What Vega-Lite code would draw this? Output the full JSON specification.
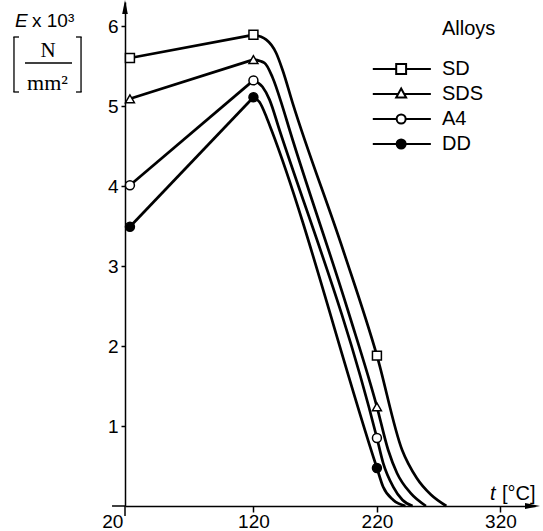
{
  "$schema": "https://vega.github.io/schema/vega-lite/v6.json",
  "width": 410,
  "height": 504,
  "autosize": {"type": "none"},
  "padding": {"left": 125, "top": 2, "right": 8, "bottom": 25},
  "background": "white",
  "config": {"view": {"stroke": null}, "font": "Liberation Sans"},
  "resolve": {"scale": {"shape": "independent", "fill": "independent", "stroke": "independent"}},
  "datasets": {
    "curve": [
      {"alloy": "SD", "t": 20, "E": 5.6}, {"alloy": "SD", "t": 120, "E": 5.89}, {"alloy": "SD", "t": 130.3, "E": 5.83}, {"alloy": "SD", "t": 138.5, "E": 5.66}, {"alloy": "SD", "t": 143.6, "E": 5.45}, {"alloy": "SD", "t": 151.7, "E": 5.04}, {"alloy": "SD", "t": 192.6, "E": 3.2}, {"alloy": "SD", "t": 220, "E": 1.88}, {"alloy": "SD", "t": 240.4, "E": 0.7}, {"alloy": "SD", "t": 252.2, "E": 0.35}, {"alloy": "SD", "t": 263.8, "E": 0.14}, {"alloy": "SD", "t": 276.2, "E": 0},
      {"alloy": "SDS", "t": 20, "E": 5.09}, {"alloy": "SDS", "t": 120, "E": 5.58}, {"alloy": "SDS", "t": 128.9, "E": 5.54}, {"alloy": "SDS", "t": 135.4, "E": 5.36}, {"alloy": "SDS", "t": 143.6, "E": 4.99}, {"alloy": "SDS", "t": 149.3, "E": 4.7}, {"alloy": "SDS", "t": 196.4, "E": 2.45}, {"alloy": "SDS", "t": 220, "E": 1.24}, {"alloy": "SDS", "t": 229.1, "E": 0.7}, {"alloy": "SDS", "t": 236.3, "E": 0.41}, {"alloy": "SDS", "t": 247.3, "E": 0.16}, {"alloy": "SDS", "t": 259.7, "E": 0},
      {"alloy": "A4", "t": 20, "E": 4.01}, {"alloy": "A4", "t": 120, "E": 5.32}, {"alloy": "A4", "t": 127.3, "E": 5.24}, {"alloy": "A4", "t": 133, "E": 5.08}, {"alloy": "A4", "t": 141.1, "E": 4.7}, {"alloy": "A4", "t": 220, "E": 0.85}, {"alloy": "A4", "t": 225, "E": 0.54}, {"alloy": "A4", "t": 233.2, "E": 0.24}, {"alloy": "A4", "t": 240.7, "E": 0.075}, {"alloy": "A4", "t": 248.9, "E": 0},
      {"alloy": "DD", "t": 20, "E": 3.49}, {"alloy": "DD", "t": 120, "E": 5.11}, {"alloy": "DD", "t": 124.9, "E": 5.05}, {"alloy": "DD", "t": 130.6, "E": 4.86}, {"alloy": "DD", "t": 134.6, "E": 4.7}, {"alloy": "DD", "t": 220, "E": 0.475}, {"alloy": "DD", "t": 225, "E": 0.24}, {"alloy": "DD", "t": 233.2, "E": 0.075}, {"alloy": "DD", "t": 243.1, "E": 0}
    ],
    "points": [
      {"alloy": "SD", "t": 20, "E": 5.6}, {"alloy": "SD", "t": 120, "E": 5.89}, {"alloy": "SD", "t": 220, "E": 1.88},
      {"alloy": "SDS", "t": 20, "E": 5.09}, {"alloy": "SDS", "t": 120, "E": 5.58}, {"alloy": "SDS", "t": 220, "E": 1.24},
      {"alloy": "A4", "t": 20, "E": 4.01}, {"alloy": "A4", "t": 120, "E": 5.32}, {"alloy": "A4", "t": 220, "E": 0.85},
      {"alloy": "DD", "t": 20, "E": 3.49}, {"alloy": "DD", "t": 120, "E": 5.11}, {"alloy": "DD", "t": 220, "E": 0.475}
    ]
  },
  "layer": [
    {
      "data": {"name": "curve"},
      "transform": [{"filter": "datum.t <= 120"}],
      "mark": {"type": "line", "color": "black", "strokeWidth": 2.7},
      "encoding": {
        "x": {"field": "t", "type": "quantitative", "scale": {"domain": [16, 348], "nice": false, "zero": false},
          "axis": {"values": [20, 120, 220, 320], "title": null, "grid": false, "domainColor": "black", "domainWidth": 1.5, "tickColor": "black", "tickWidth": 1.5, "tickSize": 6, "labelFont": "Liberation Sans", "labelFontSize": 19, "labelColor": "black", "labelPadding": 0, "labelFlush": false,
            "tickOpacity": {"condition": {"test": "datum.value === 20", "value": 0}, "value": 1},
            "labelAlign": {"condition": {"test": "datum.value === 20", "value": "right"}, "value": "center"},
            "labelOffset": {"condition": {"test": "datum.value === 20", "value": -7}, "value": 0}}},
        "y": {"field": "E", "type": "quantitative", "scale": {"domain": [0, 6.3], "nice": false, "zero": true},
          "axis": {"values": [1, 2, 3, 4, 5, 6], "format": "d", "title": null, "grid": false, "domainColor": "black", "domainWidth": 1.5, "tickColor": "black", "tickWidth": 1.5, "tickSize": 4, "labelFont": "Liberation Sans", "labelFontSize": 19, "labelColor": "black", "labelPadding": 3}},
        "detail": {"field": "alloy"}
      }
    },
    {
      "data": {"name": "curve"},
      "transform": [{"filter": "datum.t >= 120"}],
      "mark": {"type": "line", "color": "black", "strokeWidth": 2.7, "interpolate": "monotone"},
      "encoding": {
        "x": {"field": "t", "type": "quantitative"},
        "y": {"field": "E", "type": "quantitative"},
        "detail": {"field": "alloy"}
      }
    },
    {
      "data": {"name": "points"},
      "mark": {"type": "point", "filled": true, "stroke": "black", "strokeWidth": 1.5, "size": 80, "opacity": 1},
      "encoding": {
        "x": {"field": "t", "type": "quantitative"},
        "y": {"field": "E", "type": "quantitative"},
        "shape": {"field": "alloy", "type": "nominal",
          "scale": {"domain": ["SD", "SDS", "A4", "DD"], "range": ["square", "triangle-up", "circle", "circle"]}, "legend": null},
        "fill": {"field": "alloy", "type": "nominal",
          "scale": {"domain": ["SD", "SDS", "A4", "DD"], "range": ["white", "white", "white", "black"]}, "legend": null}
      }
    },
    {
      "data": {"name": "points"},
      "transform": [{"filter": "false"}],
      "mark": {"type": "point", "filled": true, "strokeWidth": 2, "opacity": 1},
      "encoding": {
        "x": {"field": "t", "type": "quantitative"},
        "y": {"field": "E", "type": "quantitative"},
        "shape": {"field": "alloy", "type": "nominal",
          "scale": {"domain": ["SD", "SDS", "A4", "DD"], "range": [
            "M-17.6,0H-12.4M-10.2,0H-4.7M-12.4,-1.1H-10.2V1.1H-12.4Z",
            "M-17.6,0H-11.96M-10.64,0H-4.7M-11.3,-1.2L-10.2,0.8H-12.4Z",
            "M-17.6,0H-12.3M-10.3,0H-4.7M-12.3,0A1,1,0,1,1,-10.3,0A1,1,0,1,1,-12.3,0Z",
            "M-17.6,0H-12.3M-10.3,0H-4.7M-12.3,0A1,1,0,1,1,-10.3,0A1,1,0,1,1,-12.3,0Z"]},
          "legend": {"orient": "none", "legendX": 317, "legendY": 17, "title": "Alloys", "titleFont": "Liberation Sans", "titleFontSize": 20, "titleFontWeight": "normal", "titleColor": "black", "titlePadding": 20, "labelFont": "Liberation Sans", "labelFontSize": 20, "labelColor": "black", "labelOffset": -20, "symbolSize": 81, "rowPadding": 5, "padding": 0, "symbolStrokeWidth": 2, "symbolOpacity": 1}},
        "fill": {"field": "alloy", "type": "nominal",
          "scale": {"domain": ["SD", "SDS", "A4", "DD"], "range": ["white", "white", "white", "black"]},
          "legend": {"orient": "none", "legendX": 317, "legendY": 17, "title": "Alloys", "titleFont": "Liberation Sans", "titleFontSize": 20, "titleFontWeight": "normal", "titleColor": "black", "titlePadding": 20, "labelFont": "Liberation Sans", "labelFontSize": 20, "labelColor": "black", "labelOffset": -20, "symbolSize": 81, "rowPadding": 5, "padding": 0, "symbolStrokeWidth": 2, "symbolOpacity": 1}},
        "stroke": {"field": "alloy", "type": "nominal",
          "scale": {"domain": ["SD", "SDS", "A4", "DD"], "range": ["black", "black", "black", "black"]},
          "legend": {"orient": "none", "legendX": 317, "legendY": 17, "title": "Alloys", "titleFont": "Liberation Sans", "titleFontSize": 20, "titleFontWeight": "normal", "titleColor": "black", "titlePadding": 20, "labelFont": "Liberation Sans", "labelFontSize": 20, "labelColor": "black", "labelOffset": -20, "symbolSize": 81, "rowPadding": 5, "padding": 0, "symbolStrokeWidth": 2, "symbolOpacity": 1}}
      }
    },
    {
      "data": {"values": [{}]},
      "mark": {"type": "point", "shape": "M0,-1L0.4,1L-0.4,1Z", "size": 196, "filled": true, "color": "black", "opacity": 1},
      "encoding": {
        "x": {"datum": 16, "type": "quantitative"},
        "y": {"datum": 6.2375, "type": "quantitative"}
      }
    },
    {
      "data": {"values": [{}]},
      "mark": {"type": "point", "shape": "M1,0L-1,0.4L-1,-0.4Z", "size": 225, "filled": true, "color": "black", "opacity": 1},
      "encoding": {
        "x": {"datum": 346, "type": "quantitative"},
        "y": {"datum": 0, "type": "quantitative"}
      }
    },
    {
      "data": {"values": [{}]},
      "mark": {"type": "rule", "color": "black", "strokeWidth": 1.5},
      "encoding": {"x": {"datum": 5.5, "type": "quantitative"}, "x2": {"datum": 16}, "y": {"datum": 0, "type": "quantitative"}}
    },
    {
      "data": {"values": [{}]},
      "mark": {"type": "rule", "color": "black", "strokeWidth": 1.5},
      "encoding": {"x": {"datum": 16, "type": "quantitative"}, "y": {"datum": -0.125, "type": "quantitative"}, "y2": {"datum": 0}}
    },
    {
      "data": {"values": [{}]},
      "mark": {"type": "text", "text": "E", "font": "Liberation Sans", "fontStyle": "italic", "fontSize": 19, "align": "left", "baseline": "alphabetic", "color": "black"},
      "encoding": {"x": {"datum": -73.1, "type": "quantitative"}, "y": {"datum": 5.9875, "type": "quantitative"}}
    },
    {
      "data": {"values": [{}]},
      "mark": {"type": "text", "text": "x 10³", "font": "Liberation Sans", "fontSize": 19, "align": "left", "baseline": "alphabetic", "color": "black"},
      "encoding": {"x": {"datum": -59.3, "type": "quantitative"}, "y": {"datum": 5.9875, "type": "quantitative"}}
    },
    {
      "data": {"values": [{}]},
      "mark": {"type": "text", "text": "N", "font": "Liberation Serif", "fontSize": 21, "align": "center", "baseline": "alphabetic", "color": "black"},
      "encoding": {"x": {"datum": -46.3, "type": "quantitative"}, "y": {"datum": 5.6125, "type": "quantitative"}}
    },
    {
      "data": {"values": [{}]},
      "mark": {"type": "text", "text": "mm²", "font": "Liberation Serif", "fontSize": 22, "align": "center", "baseline": "alphabetic", "color": "black"},
      "encoding": {"x": {"datum": -46.75, "type": "quantitative"}, "y": {"datum": 5.2, "type": "quantitative"}}
    },
    {
      "data": {"values": [{}]},
      "mark": {"type": "rule", "color": "black", "strokeWidth": 1.3},
      "encoding": {"x": {"datum": -65.0, "type": "quantitative"}, "x2": {"datum": -26.9}, "y": {"datum": 5.5375, "type": "quantitative"}}
    },
    {
      "data": {"values": [{}]},
      "mark": {"type": "rule", "color": "black", "strokeWidth": 1.3},
      "encoding": {"x": {"datum": -73.9, "type": "quantitative"}, "y": {"datum": 5.8625, "type": "quantitative"}, "y2": {"datum": 5.175}}
    },
    {
      "data": {"values": [{}]},
      "mark": {"type": "rule", "color": "black", "strokeWidth": 1.3},
      "encoding": {"x": {"datum": -74.4, "type": "quantitative"}, "x2": {"datum": -69.8}, "y": {"datum": 5.8625, "type": "quantitative"}}
    },
    {
      "data": {"values": [{}]},
      "mark": {"type": "rule", "color": "black", "strokeWidth": 1.3},
      "encoding": {"x": {"datum": -74.4, "type": "quantitative"}, "x2": {"datum": -69.8}, "y": {"datum": 5.175, "type": "quantitative"}}
    },
    {
      "data": {"values": [{}]},
      "mark": {"type": "rule", "color": "black", "strokeWidth": 1.3},
      "encoding": {"x": {"datum": -19.6, "type": "quantitative"}, "y": {"datum": 5.8625, "type": "quantitative"}, "y2": {"datum": 5.175}}
    },
    {
      "data": {"values": [{}]},
      "mark": {"type": "rule", "color": "black", "strokeWidth": 1.3},
      "encoding": {"x": {"datum": -23.7, "type": "quantitative"}, "x2": {"datum": -19.1}, "y": {"datum": 5.8625, "type": "quantitative"}}
    },
    {
      "data": {"values": [{}]},
      "mark": {"type": "rule", "color": "black", "strokeWidth": 1.3},
      "encoding": {"x": {"datum": -23.7, "type": "quantitative"}, "x2": {"datum": -19.1}, "y": {"datum": 5.175, "type": "quantitative"}}
    },
    {
      "data": {"values": [{}]},
      "mark": {"type": "text", "text": "t", "font": "Liberation Sans", "fontStyle": "italic", "fontSize": 20, "align": "left", "baseline": "alphabetic", "color": "black"},
      "encoding": {"x": {"datum": 311.5, "type": "quantitative"}, "y": {"datum": 0.075, "type": "quantitative"}}
    },
    {
      "data": {"values": [{}]},
      "mark": {"type": "text", "text": "[°C]", "font": "Liberation Sans", "fontSize": 20, "align": "left", "baseline": "alphabetic", "color": "black"},
      "encoding": {"x": {"datum": 321.3, "type": "quantitative"}, "y": {"datum": 0.075, "type": "quantitative"}}
    }
  ]
}
